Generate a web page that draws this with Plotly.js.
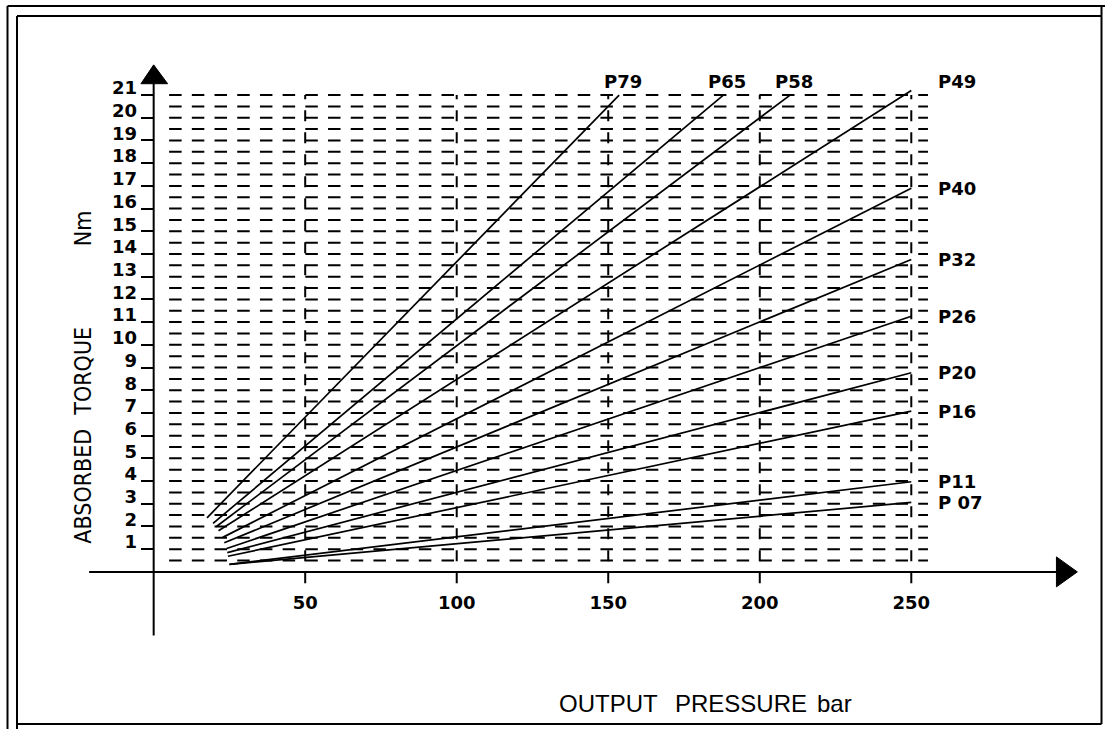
<!DOCTYPE html>
<html>
<head>
<meta charset="utf-8">
<script src="https://cdn.plot.ly/plotly-3.0.1.min.js"></script>
<style>html,body{margin:0;padding:0;background:#fff;}#chart{width:1105px;height:729px;}</style>
</head>
<body>
<div id="chart"></div>
<script>
// ---- data ----
const seriesNames = ['P79','P65','P58','P49','P40','P32','P26','P20','P16','P11','P 07'];
const startPressure = [17.6, 19.6, 20.6, 21.4, 22.8, 23.3, 24.1, 24.3, 24.5, 25, 25];
const startTorque   = [2.38, 2.14, 1.99, 1.81, 1.52, 1.28, 1.03, 0.85, 0.69, 0.33, 0.33];
const endPressure   = [153.6, 188, 210, 250, 250, 250, 250, 250, 250, 250, 250];
const endTorque     = [21, 21, 21, 21.2, 16.9, 13.76, 11.26, 8.77, 7.08, 3.97, 3.06];
const xTickValues = [50, 100, 150, 200, 250];
const xTickLabels = ['50', '100', '150', '200', '250'];
const yTickValues = [1,2,3,4,5,6,7,8,9,10,11,12,13,14,15,16,17,18,19,20,21];
const yTickLabels = yTickValues.map(String);
const xTitleWords = ['OUTPUT', 'PRESSURE', 'bar'];
const yTitleWords = ['ABSORBED', 'TORQUE', 'Nm'];

// ---- layout geometry ----
const W = 1105, H = 729;
const M = {l: 87, r: 24, t: 61, b: 89};
const XR = [-22, 306], YR = [-3, 22.5];
const pw = W - M.l - M.r, ph = H - M.t - M.b;
const px2p = px => (px - M.l) / pw;
const py2p = py => (H - M.b - py) / ph;

const traces = [];
const black = '#000';

// horizontal dashed grid (every half unit)
const gx = [], gy = [];
for (let k = 1; k <= 42; k++) { const v = k / 2; gx.push(5.1, 255.5, null); gy.push(v, v, null); }
traces.push({x: gx, y: gy, mode: 'lines', line: {color: black, width: 2, dash: '12.5px,10.2px'}, hoverinfo: 'skip', showlegend: false});
// vertical dashed grid at x ticks
const vx = [], vy = [];
xTickValues.forEach(v => { vx.push(v, v, null); vy.push(-0.5, 21, null); });
traces.push({x: vx, y: vy, mode: 'lines', line: {color: black, width: 2, dash: '11px,11px'}, hoverinfo: 'skip', showlegend: false});

// axis lines
traces.push({x: [-21.3, 298.5], y: [0, 0], mode: 'lines', line: {color: black, width: 2}, hoverinfo: 'skip', showlegend: false});
traces.push({x: [0, 0], y: [-2.8, 21.8], mode: 'lines', line: {color: black, width: 2}, hoverinfo: 'skip', showlegend: false});
// arrow heads
traces.push({x: [297.9, 304.8, 297.9, 297.9], y: [-0.66, 0, 0.66, -0.66], mode: 'lines', fill: 'toself', fillcolor: black, line: {color: black, width: 1}, hoverinfo: 'skip', showlegend: false});
traces.push({x: [-4.2, 0, 4.6, -4.2], y: [21.5, 22.33, 21.5, 21.5], mode: 'lines', fill: 'toself', fillcolor: black, line: {color: black, width: 1}, hoverinfo: 'skip', showlegend: false});

// series lines
seriesNames.forEach((n, i) => {
  traces.push({x: [startPressure[i], endPressure[i]], y: [startTorque[i], endTorque[i]], mode: 'lines', name: n,
    line: {color: black, width: 1.7}, showlegend: false});
});

// series labels
const annotations = seriesNames.map((n, i) => {
  const atTop = endPressure[i] < 250;
  return {
    x: atTop ? endPressure[i] - 5.7 : 258.2,
    y: endTorque[i] >= 21 ? 21.6 : endTorque[i],
    xref: 'x', yref: 'y', text: n, showarrow: false, xanchor: 'left', yanchor: 'middle',
    font: {family: 'DejaVu Sans', size: 18, weight: 'bold', color: black}
  };
});
// axis titles (word by word, as spaced in the reference)
const xWordCenters = [608, 741, 834];
xTitleWords.forEach((w, i) => annotations.push({xref: 'paper', yref: 'paper', x: px2p(xWordCenters[i]), y: py2p(703.5), text: w,
  showarrow: false, xanchor: 'center', yanchor: 'middle', font: {family: 'Liberation Sans', size: 24, color: black}}));
const yWordCenters = [486.7, 371.7, 228.3];
yTitleWords.forEach((w, i) => annotations.push({xref: 'paper', yref: 'paper', x: px2p(83), y: py2p(yWordCenters[i]), text: w,
  showarrow: false, textangle: -90, xanchor: 'center', yanchor: 'middle',
  font: {family: 'DejaVu Sans Condensed, DejaVu Sans', stretch: 'condensed', size: 23, color: black}}));

// drawing frame
const L = (x0, y0, x1, y1) => ({type: 'line', xref: 'paper', yref: 'paper', x0: px2p(x0), y0: py2p(y0), x1: px2p(x1), y1: py2p(y1), line: {color: black, width: 2}});
const shapes = [
  L(7.5, 6, 7.5, 729), L(17, 16, 17, 729),
  L(7.5, 6, 1105, 6), L(17, 16, 1101.5, 16),
  L(1101.5, 6, 1101.5, 724), L(17, 724, 1101.5, 724)
];

const tickFont = {family: 'DejaVu Sans', size: 18, weight: 'bold', color: black};
const layout = {
  width: W, height: H, margin: M, paper_bgcolor: '#fff', plot_bgcolor: '#fff', showlegend: false,
  xaxis: {range: XR, anchor: 'free', position: (0 - YR[0]) / (YR[1] - YR[0]), showgrid: false, zeroline: false, showline: false,
    tickmode: 'array', tickvals: xTickValues, ticktext: xTickLabels, ticks: '', tickfont: tickFont, ticklabelstandoff: 18, fixedrange: true},
  yaxis: {range: YR, anchor: 'free', position: (0 - XR[0]) / (XR[1] - XR[0]), showgrid: false, zeroline: false, showline: false,
    tickmode: 'array', tickvals: yTickValues, ticktext: yTickLabels, ticks: 'outside', ticklen: 13, tickwidth: 2, tickcolor: black,
    tickfont: tickFont, ticklabelshift: -7, fixedrange: true},
  annotations: annotations, shapes: shapes
};
Plotly.newPlot('chart', traces, layout, {displayModeBar: false, staticPlot: true});
</script>
</body>
</html>
